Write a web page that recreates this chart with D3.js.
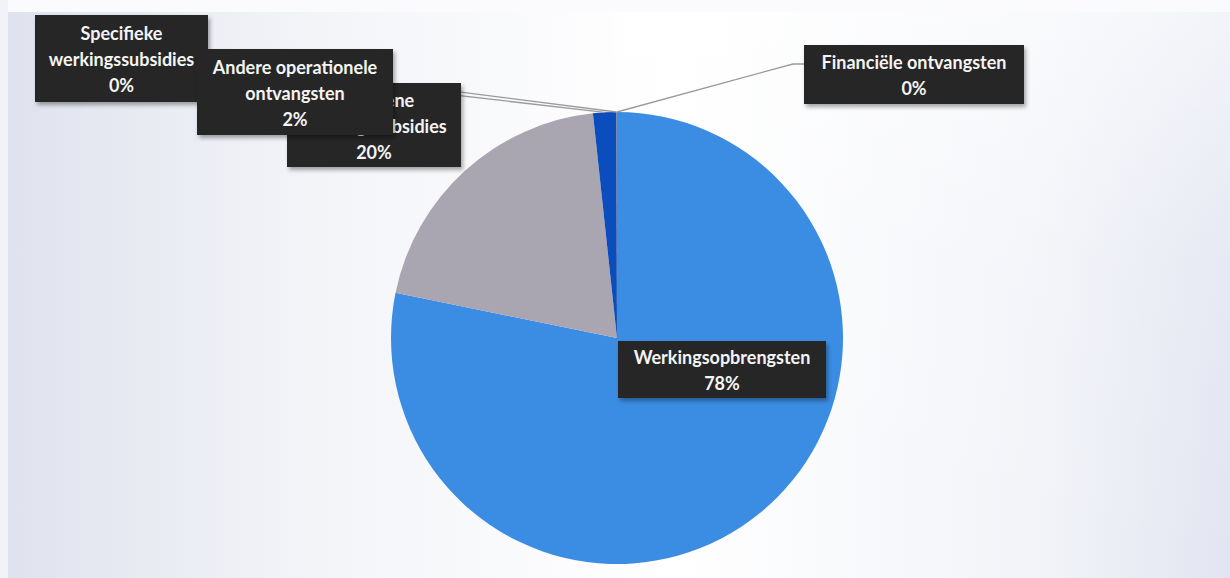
<!DOCTYPE html>
<html>
<head>
<meta charset="utf-8">
<script src="https://cdn.jsdelivr.net/npm/d3@7"></script>
<style>
  body { margin: 0; background: #fff; }
  svg { display: block; }
</style>
</head>
<body>
<script>
// Inkomsten pie chart
var W = 1230, H = 578;

// data
const categories = ["Werkingsopbrengsten", "Algemene werkingssubsidies", "Andere operationele ontvangsten", "Specifieke werkingssubsidies", "Financiële ontvangsten"];
const values = [78.2, 20.1, 1.66, 0.02, 0.02];
const pctLabels = ["78%", "20%", "2%", "0%", "0%"];
const labelLines = [["Werkingsopbrengsten"], ["Algemene", "werkingssubsidies"], ["Andere operationele", "ontvangsten"], ["Specifieke", "werkingssubsidies"], ["Financiële ontvangsten"]];
const colors = ["#3b8de4", "#a9a5b1", "#0b4dbd", "#5a5a5a", "#7f7f7f"];

// label boxes: x, y, w, h (layout only)
const boxes = [[618, 341, 208, 57], [287, 83, 174, 84], [197, 49, 196, 86], [35, 15, 173, 87], [804, 45, 220, 59]];
// leader line start on box edge, null = no line
const leaderFrom = [null, null, [393, 88], [208, 60], [793, 64]];
const drawOrder = [0, 1, 3, 2, 4];

const cx = 617, cy = 338, radius = 226;

const svg = d3.select("body").append("svg")
    .attr("width", W)
    .attr("height", H);

const defs = svg.append("defs");
const bg = defs.append("linearGradient").attr("id", "bg").attr("x1", 0).attr("x2", 1).attr("y1", 0).attr("y2", 0);
bg.append("stop").attr("offset", "0%").attr("stop-color", "#dfe2ee");
bg.append("stop").attr("offset", "25%").attr("stop-color", "#f3f4f8");
bg.append("stop").attr("offset", "55%").attr("stop-color", "#ffffff");
bg.append("stop").attr("offset", "85%").attr("stop-color", "#f1f3f8");
bg.append("stop").attr("offset", "100%").attr("stop-color", "#e2e5f1");

const fade = defs.append("linearGradient").attr("id", "fade").attr("x1", 0).attr("x2", 0).attr("y1", 0).attr("y2", 1);
fade.append("stop").attr("offset", "0%").attr("stop-color", "#fff").attr("stop-opacity", 0.6);
fade.append("stop").attr("offset", "45%").attr("stop-color", "#fff").attr("stop-opacity", 0.15);
fade.append("stop").attr("offset", "100%").attr("stop-color", "#fff").attr("stop-opacity", 0);

const shadow = defs.append("filter").attr("id", "shadow")
    .attr("x", "-10%").attr("y", "-10%").attr("width", "130%").attr("height", "140%");
shadow.append("feDropShadow")
    .attr("dx", 2).attr("dy", 3).attr("stdDeviation", 2)
    .attr("flood-color", "#000").attr("flood-opacity", 0.35);

svg.append("rect").attr("width", W).attr("height", H).attr("fill", "url(#bg)");
svg.append("rect").attr("x", W / 2).attr("width", W / 2).attr("height", H).attr("fill", "url(#fade)");
svg.append("rect").attr("width", W).attr("height", 12).attr("fill", "#fbfbfd");
svg.append("rect").attr("width", 8).attr("height", H).attr("fill", "#f2f3f8");

// pie
const pie = d3.pie().sort(null).value(function(d) { return d; });
const arcs = pie(values);
const arc = d3.arc().innerRadius(0).outerRadius(radius);

const g = svg.append("g").attr("transform", "translate(" + cx + "," + cy + ")");
g.selectAll("path.slice")
  .data(arcs)
  .enter()
  .append("path")
    .attr("class", "slice")
    .attr("d", arc)
    .attr("fill", function(d, i) { return colors[i]; });

// leader lines
function edgePoint(d) {
  var a = (d.startAngle + d.endAngle) / 2;
  return [cx + radius * Math.sin(a), cy - radius * Math.cos(a)];
}
arcs.forEach(function(d, i) {
  if (!leaderFrom[i]) return;
  var p = edgePoint(d);
  var pts = [leaderFrom[i], p];
  if (i === 4) pts = [[boxes[i][0], leaderFrom[i][1]], leaderFrom[i], p];
  svg.append("path")
    .attr("d", d3.line()(pts))
    .attr("fill", "none")
    .attr("stroke", "#9a9a9a")
    .attr("stroke-width", 1.3);
});

// data labels
const lh = 26;
drawOrder.forEach(function(i) {
  var b = boxes[i];
  var lines = labelLines[i].concat([pctLabels[i]]);
  var lg = svg.append("g");
  lg.append("rect")
    .attr("x", b[0]).attr("y", b[1])
    .attr("width", b[2]).attr("height", b[3])
    .attr("fill", "#252525")
    .attr("filter", "url(#shadow)");
  var mid = b[1] + b[3] / 2 + 1.5;
  lines.forEach(function(t, k) {
    lg.append("text")
      .attr("x", b[0] + b[2] / 2)
      .attr("y", mid + (k - (lines.length - 1) / 2) * lh)
      .attr("dy", "0.35em")
      .attr("text-anchor", "middle")
      .attr("font-family", "Lato, 'Open Sans', sans-serif")
      .attr("font-weight", "bold")
      .attr("font-size", 18)
      .attr("fill", "#f4f4f4")
      .text(t);
  });
});
</script>
</body>
</html>
